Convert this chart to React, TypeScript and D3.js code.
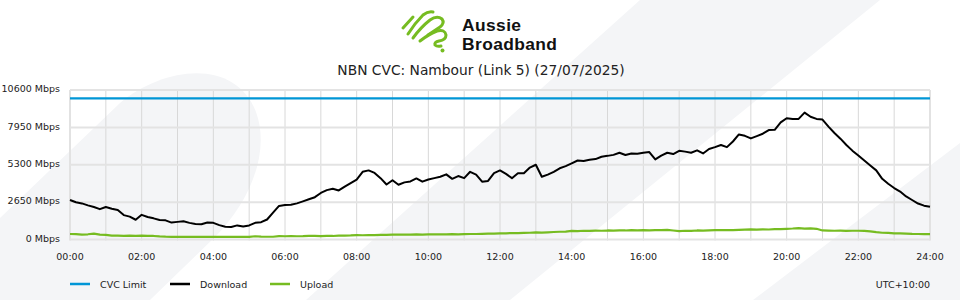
import React from "react";
import * as d3 from "d3";

const TITLE = "NBN CVC: Nambour (Link 5) (27/07/2025)";
const Y_TICKS = [0, 2650, 5300, 7950, 10600];
const X_TICKS = [0, 2, 4, 6, 8, 10, 12, 14, 16, 18, 20, 22, 24];
const CVC_LIMIT = 10000;
const STEP_MIN = 10;

// Download, Mbps, every 10 minutes from 00:00 to 24:00
const DOWNLOAD = [
  2800, 2640, 2560, 2420, 2300, 2150,
  2300, 2180, 2090, 1730, 1620, 1400,
  1750, 1600, 1500, 1380, 1360, 1200,
  1250, 1300, 1180, 1100, 1080, 1200,
  1180, 1020, 900, 890, 1000, 920,
  1000, 1180, 1230, 1420, 1900, 2380,
  2440, 2460, 2560, 2700, 2850, 3000,
  3300, 3500, 3600, 3480, 3750, 4000,
  4250, 4800, 4900, 4720, 4350, 3900,
  4200, 3880, 4050, 4120, 4330, 4100,
  4250, 4350, 4450, 4620, 4300, 4500,
  4350, 4800, 4600, 4100, 4150, 4700,
  4900, 4650, 4350, 4700, 4700, 5100,
  5300, 4450, 4600, 4800, 5050, 5200,
  5400, 5600, 5560, 5650, 5700, 5870,
  5930, 6000, 6150, 5990, 6100, 6080,
  6150, 6200, 5680, 5950, 6150, 6060,
  6290, 6230, 6150, 6320, 6100, 6420,
  6550, 6700, 6550, 6950, 7450, 7350,
  7170, 7330, 7500, 7760, 7780, 8300,
  8600, 8550, 8550, 9000, 8700, 8550,
  8500, 8000, 7550, 7150, 6700, 6300,
  5950, 5600, 5250, 4900, 4300, 3950,
  3650, 3400, 3050, 2800, 2550, 2400,
  2320,
];

// Upload, Mbps, every 10 minutes from 00:00 to 24:00
const UPLOAD = [
  390, 380, 340, 370, 420, 350,
  330, 280, 270, 260, 280, 260,
  280, 260, 250, 220, 200, 190,
  190, 190, 185, 185, 190, 185,
  185, 185, 185, 185, 190, 185,
  185, 230, 200, 195, 195, 240,
  230, 250, 230, 240, 260, 250,
  240, 260, 250, 270, 280, 290,
  310, 300, 320, 310, 330, 330,
  340, 350, 340, 350, 360, 350,
  360, 370, 360, 370, 380, 370,
  380, 390, 390, 400, 410, 420,
  430, 440, 460, 450, 470, 480,
  500, 490, 510, 530, 550, 560,
  610, 600, 620, 610, 630, 620,
  640, 630, 650, 640, 660, 650,
  665, 650, 670, 660, 680, 640,
  600, 620, 610, 640, 630, 650,
  665, 660, 670, 660, 680, 700,
  715, 700, 720, 710, 730, 740,
  760, 780, 810, 770, 790, 760,
  640, 630, 620, 630, 610, 620,
  620, 610, 580, 520, 480, 470,
  440, 430, 420, 400, 390, 380,
  380,
];

const LEGEND = [
  { name: "CVC Limit", color: "#0096d6" },
  { name: "Download", color: "#000000" },
  { name: "Upload", color: "#76bc21" },
];

const FONT = "'DejaVu Sans', Verdana, sans-serif";

export default function App() {
  const W = 960, H = 300;
  const x = d3.scaleLinear().domain([0, 24]).range([70, 930]);
  const y = d3.scaleLinear().domain([0, 10600]).range([239.5, 90]);
  const hours = d3.range(0, 25);

  const line = d3
    .line<number>()
    .x((_, i) => x((i * STEP_MIN) / 60))
    .y((d) => y(d));

  const cvcLine = d3.line<number>().x((d) => x(d)).y(() => y(CVC_LIMIT));

  const fmt = (h: number) => `${String(h).padStart(2, "0")}:00`;

  return (
    <svg
      width={W}
      height={H}
      viewBox={`0 0 ${W} ${H}`}
      style={{ position: "fixed", left: 0, top: 0, background: "#fff" }}
    >
      {/* decorative background */}
      <g fill="#f4f5f7">
        <path d="M0,218 L120,103 C165,66 235,58 256,112 C270,150 252,200 214,238 L150,300 L0,300 Z" />
        <path d="M640,0 L880,0 L510,300 L306,300 Z" />
        <path d="M960,143 L960,300 L753,300 Z" />
      </g>

      {/* logo */}
      <g fill="none" stroke="#76bc21" strokeWidth={3} strokeLinecap="round" strokeLinejoin="round">
        <path d="M403,28 L413,17" />
        <path d="M408,34 Q415,23 423,15 Q428,11 433,12" />
        <path d="M413,38 Q421,27 430,20 Q437,15 442,19 Q445,23 440,27 Q434,31 428,35" />
        <path d="M420,41 Q429,34 437,31 Q445,29 446,35 Q446,40 439,41 Q434,42 435,45 Q437,47 441,46" />
      </g>
      <circle cx={442.5} cy={50.5} r={2} fill="#76bc21" />
      <g fontFamily="'Liberation Sans', Arial, sans-serif" fontWeight="bold" fill="#111" fontSize={17.4} letterSpacing={0.4}>
        <text x={462} y={30.5}>Aussie</text>
        <text x={462} y={50.2}>Broadband</text>
      </g>

      {/* title */}
      <text x={481} y={75} textAnchor="middle" fontFamily={FONT} fontSize={13.8} fill="#222">
        {TITLE}
      </text>

      {/* grid */}
      <g>
        {hours.map((h) => (
          <line key={"v" + h} x1={x(h)} x2={x(h)} y1={y(10600)} y2={y(0) + 1} stroke={h === 0 || h === 24 ? "#e2e2e2" : "#d8d8d8"} strokeWidth={h === 0 || h === 24 ? 2 : 1} />
        ))}
        {Y_TICKS.map((t) => (
          <line key={"h" + t} x1={x(0)} x2={x(24)} y1={y(t)} y2={y(t)} stroke="#e3e3e3" strokeWidth={2} />
        ))}
      </g>

      {/* y labels */}
      <g fontFamily={FONT} fontSize={9.5} fill="#222" textAnchor="end">
        {Y_TICKS.map((t) => (
          <text key={t} x={60} y={y(t) + 2.3}>{`${t} Mbps`}</text>
        ))}
      </g>

      {/* x labels */}
      <g fontFamily={FONT} fontSize={9.5} fill="#222" textAnchor="middle">
        {X_TICKS.map((h) => (
          <text key={h} x={x(h)} y={260}>{fmt(h)}</text>
        ))}
      </g>

      {/* series */}
      <path d={cvcLine([0, 24]) || ""} fill="none" stroke={LEGEND[0].color} strokeWidth={2.2} />
      <path d={line(UPLOAD) || ""} fill="none" stroke={LEGEND[2].color} strokeWidth={2.2} strokeLinejoin="round" />
      <path d={line(DOWNLOAD) || ""} fill="none" stroke={LEGEND[1].color} strokeWidth={2} strokeLinejoin="round" />

      {/* legend */}
      <g fontFamily={FONT} fontSize={9.5} fill="#222">
        {LEGEND.map((l, i) => (
          <g key={l.name} transform={`translate(${70 + i * 100},284)`}>
            <line x1={0} x2={20} y1={0} y2={0} stroke={l.color} strokeWidth={2.5} />
            <text x={30} y={3.5}>{l.name}</text>
          </g>
        ))}
      </g>
      <text x={930} y={287.5} textAnchor="end" fontFamily={FONT} fontSize={9.5} fill="#222">
        UTC+10:00
      </text>
    </svg>
  );
}
